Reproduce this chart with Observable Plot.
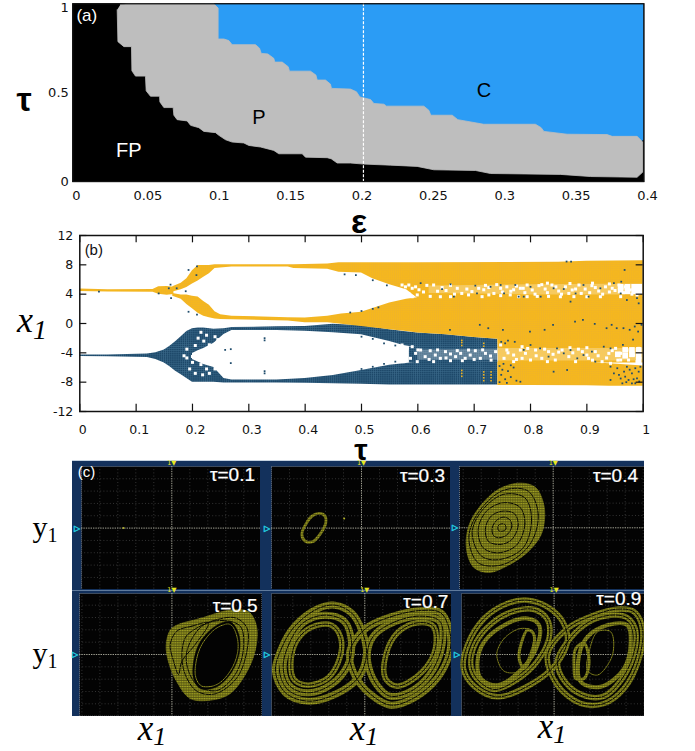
<!DOCTYPE html>
<html>
<head>
<meta charset="utf-8">
<script src="https://cdn.jsdelivr.net/npm/d3@7"></script>
<script src="https://cdn.jsdelivr.net/npm/@observablehq/plot@0.6"></script>
<style>
html,body{margin:0;padding:0;background:#fff}
#page{position:relative;width:695px;height:751px;overflow:hidden;background:#fff}
#page svg{position:absolute;display:block;max-width:none}
.lab{position:absolute;transform:translate(-50%,-50%);white-space:nowrap;color:#000;line-height:.62}
.ital{font-family:"Liberation Serif",serif;font-style:italic}
.rom{font-family:"Liberation Serif",serif}
.sym{font-family:"Liberation Sans",sans-serif;font-weight:700}
</style>
</head>
<body>
<div id="page">
<svg width="0" height="0" style="position:absolute">
  <defs>
    <pattern id="scopeTex" patternUnits="userSpaceOnUse" width="1.7" height="1.7">
      <rect width="1.7" height="1.7" fill="#a8a824"/>
      <rect y="1.15" width="1.7" height="0.55" fill="#2f2f08"/>
      <rect x="1.25" width="0.45" height="1.7" fill="#505010"/>
    </pattern>
    <pattern id="goldTex" patternUnits="userSpaceOnUse" width="2.1" height="2.1">
      <rect width="2.1" height="2.1" fill="#f6b81c"/>
      <rect y="1.6" width="2.1" height="0.5" fill="#efb32a"/>
      <rect x="1.6" width="0.5" height="2.1" fill="#efb32a"/>
    </pattern>
    <pattern id="navyTex" patternUnits="userSpaceOnUse" width="2.1" height="2.1">
      <rect width="2.1" height="2.1" fill="#1d4869"/>
      <rect y="1.6" width="2.1" height="0.5" fill="#3a6a8a"/>
      <rect x="1.6" width="0.5" height="2.1" fill="#3a6a8a"/>
    </pattern>
  </defs>
</svg>
</div>
<script>
// ---------- panel (a): epsilon / tau regions ----------
const epsTicks = [0, 0.05, 0.1, 0.15, 0.2, 0.25, 0.3, 0.35, 0.4];
const tauTicksA = [0, 0.5];
const tauTickTop = [1];
const chaosRegion = [[0.09,1],[0.3974,1],[0.3974,0.235],[0.39,0.2],[0.2,0.2],[0.09,0.5]];
const periodicBoundary = [
 [0.0308,0.996],[0.036,1],[0.0962,1],[0.0992,0.976],[0.0992,0.802],[0.1032,0.802],[0.1067,0.793],[0.109,0.77],
 [0.1254,0.77],[0.1282,0.75],[0.1294,0.721],[0.134,0.718],[0.1382,0.693],[0.1389,0.672],[0.1441,0.672],
 [0.1483,0.646],[0.1492,0.621],[0.1639,0.621],[0.1677,0.599],[0.1686,0.571],[0.1744,0.571],[0.1779,0.548],
 [0.1786,0.524],[0.1919,0.52],[0.1961,0.505],[0.1985,0.476],[0.206,0.461],[0.2083,0.439],[0.2153,0.435],
 [0.2172,0.424],[0.2433,0.424],[0.2468,0.401],[0.2482,0.373],[0.2632,0.373],[0.2671,0.348],[0.2853,0.322],
 [0.3215,0.322],[0.3255,0.303],[0.3274,0.282],[0.3437,0.266],[0.3717,0.264],[0.3752,0.254],[0.3927,0.254],
 [0.3967,0.222],[0.3967,0.053],[0.3927,0.024],[0.36,0.028],[0.339,0.04],[0.29,0.045],[0.2795,0.062],
 [0.2503,0.066],[0.2386,0.085],[0.22,0.092],[0.2013,0.098],[0.1919,0.104],[0.1826,0.104],[0.1784,0.128],
 [0.1756,0.134],[0.1604,0.137],[0.1581,0.156],[0.1417,0.156],[0.1382,0.175],[0.1289,0.194],[0.1207,0.203],
 [0.1172,0.217],[0.109,0.222],[0.1044,0.235],[0.0997,0.26],[0.0974,0.275],[0.0892,0.282],[0.0857,0.303],
 [0.0799,0.316],[0.0775,0.341],[0.0705,0.348],[0.0682,0.373],[0.0677,0.416],[0.0612,0.416],[0.0584,0.448],
 [0.0582,0.48],[0.0518,0.48],[0.0488,0.51],[0.0483,0.593],[0.0413,0.593],[0.0388,0.623],[0.0385,0.759],
 [0.0332,0.759],[0.029,0.787],[0.0285,0.966]
];
const regionLabels = [
 {e:0.0366,t:0.175,s:"FP",c:"#fff"},
 {e:0.1277,t:0.36,s:"P",c:"#000"},
 {e:0.2854,t:0.51,s:"C",c:"#000"}
];

// ---------- panel (b): bifurcation envelopes [tau, low, high] ----------
const tauTicksB = [0,0.1,0.2,0.3,0.4,0.5,0.6,0.7,0.8,0.9,1];
const xTicksB = [-12,-8,-4,0,4,8,12];
const navyStem = [[0,-4.5,-4.3],[0.05,-4.55,-4.3],[0.12,-4.65,-4.15],[0.135,-4.9,-4],[0.15,-5.4,-3.6],[0.16,-5.9,-3.1],[0.17,-6.5,-2.5],[0.18,-7,-1.8],[0.19,-7.5,-1.1],[0.2,-8,-0.7]];
const navyUpper = [[0.2,-4.1,-0.7],[0.21,-3.7,-0.6],[0.22,-3.4,-0.6],[0.238,-2.7,-0.8],[0.256,-1.5,-0.7],[0.27,-0.95,-0.55],[0.35,-0.95,-0.45],[0.4,-1.05,-0.4],[0.45,-1.25,-0.1],[0.5,-1.55,-0.3],[0.55,-2.45,-0.85],[0.575,-3,-1.1],[0.6,-3.3,-1.3],[0.65,-3.3,-1.55],[0.7,-3.3,-1.9],[0.742,-3.3,-2.15]];
const navyLower = [[0.2,-8,-4.9],[0.22,-8,-5.6],[0.238,-8,-6],[0.256,-8.1,-7.5],[0.27,-8.1,-7.7],[0.35,-8.1,-7.7],[0.4,-8.15,-7.5],[0.45,-8.2,-7.1],[0.5,-8.3,-6.4],[0.55,-8.4,-5.7],[0.6,-8.4,-5.3],[0.7,-8.4,-5.3],[0.742,-8.4,-5.2]];
const navyMiddle = [[0.585,-5.4,-3.2],[0.742,-5.3,-3.2]];
const goldStem = [[0,4.35,4.7],[0.05,4.3,4.6],[0.13,4.25,4.65],[0.14,4,5],[0.155,3.85,5.05],[0.167,3.95,4.95]];
const goldUpper = [[0.165,4.3,5],[0.18,4.6,5.5],[0.19,4.9,6.1],[0.2,5.4,7.2],[0.21,5.8,7.9],[0.22,6.3,7.9],[0.23,6.8,7.9],[0.24,7.5,8],[0.27,7.7,8],[0.37,7.7,8],[0.38,7.5,8],[0.44,7.4,8.1],[0.46,7,8.3],[0.5,6.9,8.3],[0.52,6.1,8.3],[0.55,5.3,8.3],[0.58,4.6,8.3],[0.6,3.4,8.3],[0.85,3.4,8.35],[0.9,3.4,8.5],[1,3.4,8.55]];
const goldLower = [[0.165,3.7,4.1],[0.18,3.3,3.9],[0.19,2.6,3.9],[0.2,2,3.7],[0.21,1.4,3.6],[0.22,1,3],[0.23,0.8,2.5],[0.24,0.6,1.6],[0.25,0.55,1.2],[0.27,0.5,1],[0.37,0.35,0.8],[0.4,0.1,0.75],[0.44,0.1,1],[0.4645,-0.1,1.3],[0.5,-0.4,1.55],[0.55,-0.85,2.8],[0.58,-1.1,3.3],[0.6,-1.3,3.5],[0.65,-1.55,3.6],[0.7,-1.9,3.6],[0.742,-2.15,3.6],[0.743,-5.4,3.6],[1,-5.4,3.5]];
const goldBottom = [[0.742,-8.45,-5.3],[0.8,-8.45,-5.3],[0.9,-8.5,-5.3],[0.94,-8.55,-5.5],[1,-8.55,-5.8]];
const mottleUpper = [[0.62,4.1,5.1],[0.8,3.9,5.3],[1,3.9,5.4]];
const mottleLower = [[0.6,-5,-3.6],[0.742,-5,-3.5],[0.743,-5.1,-3.4],[1,-5.1,-3.4]];
const whiteFlecks = [
 [.572,5.25],[.578,5],[.584,5.25],[.59,4.8],[.575,4.35],[.584,4.1],[.596,5],[.602,4.6],[.59,3.65],[.599,3.9],
 [.616,5.2],[.628,5.25],[.643,4.9],[.658,5.2],[.67,4.8],[.622,3.7],[.64,3.65],[.658,3.66],[.678,4.1],[.687,4.7],[.696,4.35],
 [.708,4.8],[.717,4.6],[.726,4.9],[.735,4.1],[.747,4.8],[.758,5],[.77,4.6],[.782,4.8],[.714,3.66],[.726,3.9],[.747,3.8],[.764,3.9],[.779,3.66],
 [.787,4.8],[.794,5.25],[.803,4.57],[.815,5.16],[.826,4.7],[.838,5.25],[.85,4.43],[.862,5],[.874,4.57],[.886,5.25],[.897,4.7],[.909,5.16],[.921,4.43],[.933,5],[.945,4.8],[.957,5.25],[.968,5],[.977,4.57],[.986,5.16],[.992,4.7],[.794,3.66],[.812,3.7],[.832,3.7],[.853,3.65],[.877,3.66],[.9,3.65],[.924,3.65],[.96,3.66],[.989,3.9],
 [.61,4.3],[.635,4.4],[.65,4.5],[.665,4],[.69,3.9],[.72,5.2],[.74,5.3],[.75,4.3],[.765,4.4],[.775,5.1],[.79,4.2],[.808,4],[.82,5.3],[.83,4.2],[.845,5],[.855,4],[.868,4.1],[.88,4.7],[.89,4.1],[.905,4.2],[.915,4.9],[.928,4],[.94,4.3],[.95,4.5],[.94,5.4],[.965,4.2],[.98,4],[.992,4.1],[.83,5.5],[.87,5.45],[.91,5.5],
 [.572,-2.93],[.581,-3.39],[.59,-3.16],[.578,-4.3],[.587,-4.75],[.596,-4.07],[.605,-3.62],[.613,-4.52],[.599,-5.2],[.622,-3.71],[.631,-4.3],[.64,-4.75],[.649,-3.84],[.658,-4.16],[.667,-4.52],[.676,-4.07],[.684,-4.75],[.693,-4.3],[.702,-3.71],[.711,-4.75],[.72,-4.07],[.729,-4.43],[.738,-3.84],[.69,-3.62],[.679,-5.07],[.658,-5.07],[.628,-5.2],[.575,-5.2],
 [.6,-3.6],[.62,-4.9],[.635,-3.6],[.65,-4.7],[.67,-3.7],[.7,-4.9],[.715,-3.6],[.73,-5],[.76,-4],[.775,-4.9],[.795,-3.4],[.81,-4.4],[.825,-3.5],[.84,-4.2],[.85,-3.9],[.875,-4],[.885,-3.5],[.9,-4.3],[.91,-5],[.92,-4.4],[.935,-4.7],[.945,-3.7],[.955,-5],[.83,-5.2],[.87,-3.3],[.9,-3.3],
 [.747,-2.93],[.758,-3.62],[.77,-4.3],[.782,-3.62],[.753,-4.75],[.77,-5.2],[.785,-4.75],
 [.785,-3.16],[.791,-4.07],[.8,-4.98],[.809,-3.62],[.82,-4.75],[.832,-3.84],[.844,-4.98],[.856,-3.62],[.868,-4.52],[.88,-5.2],[.892,-3.84],[.903,-4.75],[.915,-3.84],[.927,-5.2],[.939,-4.07],[.951,-3.39],[.96,-4.07],[.971,-3.62],[.983,-4.3],[.992,-3.39],[.96,-4.98],[.974,-4.98],[.989,-5.2],[.942,-5.43],
 [.205,-3],[.21,-2],[.215,-1.2],[.22,-2.4],[.225,-1.6],[.23,-2.9],[.215,-3.8],[.185,-4.4],[.19,-4.7],[.2,-4.5],[.21,-4.5],[.2,-5.3],[.215,-5.6],[.225,-6.2],[.23,-6.8],[.218,-7],[.24,-1.8],[.245,-2.2],[.19,-3.5],[.195,-6.2],[.205,-6.8],[.24,-6.2],[.235,-5.2]
];
const whiteBlocks = [[.96,5],[.972,5],[.984,5],[.993,5],[.96,4.5],[.972,4.4],[.984,4.4],[.993,4.4],[.955,-4.2],[.968,-4.4],[.98,-4.2],[.992,-4.4],[.968,-3.6],[.98,-3.6],[.992,-3.6],[.992,-5]];
const navyFlecks = [
 [.8,5],[.818,3.66],[.841,4.8],[.859,4.7],[.88,4.1],[.894,5.25],[.903,3.66],[.924,4.8],[.948,5.5],[.96,4.1],[.971,3.2],[.989,3.45],[.992,2.75],[.788,3.66],[.871,2.98],
 [.605,5.5],[.643,4.7],[.658,5.35],[.664,3.66],[.702,5.16],[.705,4.1],[.729,5],[.747,5.25],[.753,4.1],[.773,5.25],[.779,3.66],
 [.788,-3.6],[.8,-2.93],[.817,-3.39],[.832,-4.52],[.847,-3.39],[.859,-4.07],[.871,-3.62],[.883,-4.75],[.894,-4.3],[.909,-3.84],[.915,-5.2],[.93,-3.16],[.942,-3.39],[.942,-5.89],[.841,-6.57],[.865,-6.34],[.782,-7.94],
 [.948,-6.8],[.954,-6.1],[.96,-7.5],[.966,-6.57],[.971,-5.9],[.974,-7.7],[.98,-6.8],[.986,-6.1],[.989,-7.48],[.992,-6.57],[.963,-8.16],[.98,-8.16],[.957,-7],[.942,-7.7],[.968,-7.25],[.986,-8.16],[.995,-5.9],[.976,-6.3],[.983,-7.6],[.993,-7.9],[.97,-8],
 [.745,-5.8],[.75,-6.3],[.748,-7],[.755,-7.6],[.745,-8],[.76,-6.5],[.765,-7.3],[.77,-6],[.775,-7.8],[.758,-8.1],[.752,-5.5],[.765,-5.7],[.748,-2.5],[.755,-2.7],[.76,-2.35],[.772,-2.5],
 [.657,-.86],[.71,-.18],[.725,-.64],[.751,-.86],[.799,-1.1],[.825,-.86],[.84,-.18],[.879,.27],[.893,.5],[.914,-.05],[.935,-.64],[.944,-.18],[.953,-.64],[.965,-.64],[.976,-.86],[.985,-.41],[.991,-1.1],[.997,-.18],[.982,-2.2],[.964,-2.9],[.967,7.3],[.961,5.7],[.864,8.45],[.872,8.45],
 [.193,7.3],[.208,7.8],[.207,6.6],[.161,5.3],[.158,4.8],[.188,4.4],[.162,3.45],[.193,1.6],[.208,1.2],[.034,4.36],[.14,4.1],[.172,4.8],
 [.328,-2],[.328,-2.3],[.328,-6.8],[.328,-6.5],[.268,-3.5],[.268,-5.4],[.258,-3.6],[.47,6.7],[.49,6.6],[.52,5.9],[.545,5.2],[.5,1.7],[.52,2],[.53,2.2],[.48,1.5],
 [.5,-1.8],[.52,-2.1],[.54,-2.7],[.56,-3],[.5,-6.2],[.52,-5.9],[.54,-5.5],[.56,-5.2]
];
const goldFlecks = [[.678,-2.3],[.678,-2.6],[.678,-3],[.678,-6.4],[.678,-6.8],[.678,-7.2],[.717,-2.7],[.717,-3.1],[.717,-6.6],[.717,-7],[.717,-7.4],[.717,-7.8],[.73,-6.6],[.73,-7],[.73,-7.4],[.73,-7.8]];

// ---------- panel (c): oscilloscope x1-y1 portraits (54 units = 1 div across, 37 units = 1 div up) ----------
const scopeX = [-270,-216,-162,-108,-54,54,108,162,216,270];
const scopeY = [-185,-148,-111,-74,-37,37,74,111,148,185];
const fixedPoint01 = [[-145,0]];
const limitCycle03 = [[-127,44],[-110,37],[-107,17],[-122,-15],[-147,-41],[-170,-38],[-179,-18],[-167,12],[-147,37]];
const strayPoint03 = [[-52,29]];
const outline04 = [[-98,134],[-53,121],[-30,76],[-26,26],[-38,-24],[-78,-74],[-138,-114],[-193,-134],[-238,-119],[-260,-64],[-253,6],[-218,66],[-163,116]];
const gap04a = [[-145,10],[-142,-4],[-152,-10],[-164,-8],[-165,6],[-155,12]];
const gap04b = [[-131,25],[-124,4],[-140,-22],[-165,-30],[-180,-22],[-183,0],[-170,22],[-150,32]];
const gap04c = [[-116,42],[-105,8],[-125,-36],[-160,-50],[-195,-40],[-203,0],[-185,36],[-150,50]];
const gap04d = [[-100,62],[-85,12],[-110,-52],[-165,-75],[-210,-60],[-225,-5],[-200,50],[-150,75]];
const gap04e = [[-85,90],[-65,25],[-90,-60],[-160,-95],[-215,-85],[-243,-15],[-215,50],[-150,100]];
const gap04f = [[-75,110],[-45,40],[-70,-50],[-150,-110],[-225,-105],[-253,-30],[-225,45],[-150,112]];
const outline05 = [[15,88],[85,108],[175,133],[230,128],[253,88],[253,28],[230,-42],[175,-117],[115,-137],[55,-132],[15,-82],[-10,-22],[-17,28],[-5,73]];
const hole05 = [[135,88],[175,98],[200,63],[203,8],[180,-52],[135,-97],[85,-102],[65,-72],[65,-22],[85,38]];
const gap05a = [[60,70],[120,100],[190,110],[225,80],[225,10],[195,-70],[130,-118],[75,-110],[40,-60],[30,0],[40,50]];
const gap05b = [[90,85],[150,102],[205,85],[215,20],[190,-60],[135,-108],[80,-95],[50,-50],[45,10]];
const gap05c = [[15,70],[60,85],[110,95],[70,30],[30,-20],[20,-60],[5,-20],[-5,30]];
const thread05 = [[175,90],[195,55],[197,5],[175,-50],[135,-90],[90,-95],[72,-70],[72,-25],[90,30],[135,80]];
const left07a = [[-268,-50],[-250,18],[-210,85],[-140,138],[-90,148],[-40,125],[-8,70],[5,0],[-20,-70],[-90,-120],[-170,-140],[-238,-115]];
const left07b = [[-245,-40],[-228,30],[-185,95],[-120,118],[-62,100],[-40,40],[-50,-30],[-100,-90],[-170,-115],[-225,-95]];
const left07c = [[-222,-30],[-205,40],[-160,82],[-100,88],[-72,50],[-75,-10],[-110,-70],[-170,-92],[-212,-75]];
const right07a = [[3,78],[78,113],[168,132],[228,125],[255,68],[255,8],[218,-70],[148,-130],[78,-152],[18,-120],[-30,-62],[-45,10]];
const right07b = [[30,60],[90,98],[165,115],[225,100],[232,30],[195,-60],[135,-112],[75,-125],[35,-90],[10,-30],[10,20]];
const right07c = [[63,-2],[98,65],[158,95],[205,85],[212,18],[172,-52],[98,-95],[62,-72]];
const left09a = [[-272,-42],[-260,28],[-210,108],[-140,153],[-80,163],[-20,143],[25,100],[40,40],[5,-30],[-70,-90],[-170,-127],[-240,-95]];
const left09b = [[-250,-30],[-235,35],[-185,95],[-120,130],[-60,135],[-20,105],[-15,50],[-50,-20],[-110,-75],[-180,-105],[-230,-75]];
const left09c = [[-230,-22],[-210,38],[-150,88],[-80,108],[-45,88],[-50,28],[-95,-42],[-170,-92],[-220,-72]];
const loop09a = [[-100,28],[-80,73],[-62,63],[-65,8],[-90,-42],[-105,-12]];
const thread09a = [[-172,0],[-150,48],[-100,78],[-62,68],[-70,10],[-105,-50],[-150,-50]];
const right09a = [[265,78],[240,128],[190,136],[120,118],[40,78],[-20,-2],[10,-92],[80,-147],[150,-147],[210,-102],[255,-12]];
const right09b = [[245,70],[220,110],[170,118],[105,98],[50,50],[10,-20],[35,-85],[95,-125],[150,-125],[195,-85],[235,-10]];
const right09c = [[75,-2],[100,53],[160,88],[220,88],[230,38],[210,-42],[140,-97],[80,-82]];
const loop09b = [[60,-42],[65,18],[90,33],[105,-22],[90,-72],[65,-72]];
const thread09b = [[105,8],[130,68],[170,68],[175,-2],[130,-62],[100,-47]];

const scopePanels = [
 {label:"τ=0.1",l:80.7,r:260,t:465.7,b:589,cx:171,cy:527.3,lx:231.7,ly:474.5,dots:fixedPoint01},
 {label:"τ=0.3",l:270.7,r:450,t:465.7,b:589,cx:360.7,cy:527.3,lx:421.7,ly:475.5,bands:[[limitCycle03,2.8]],dots:strayPoint03},
 {label:"τ=0.4",l:459,r:644,t:465.7,b:589,cx:552.7,cy:527,lx:615,ly:475,fills:[outline04],gaps:[gap04a,gap04b,gap04c,gap04d,gap04e,gap04f]},
 {label:"τ=0.5",l:79.3,r:261.7,t:593.3,b:716,cx:171.7,cy:654.3,lx:235,ly:605.5,fills:[outline05],holes:[hole05],gaps:[gap05a,gap05b,gap05c],threads:[thread05]},
 {label:"τ=0.7",l:270.7,r:451,t:593.3,b:716,cx:364,cy:654.3,lx:425,ly:602,bands:[[left07a,7],[left07b,7],[left07c,5.5],[right07a,7],[right07b,7],[right07c,5.5]],gaps:[left07a,left07b,left07c,right07a,right07b,right07c]},
 {label:"τ=0.9",l:460.7,r:644,t:593.3,b:716,cx:553.3,cy:654.3,lx:618,ly:599,bands:[[left09a,5.5],[left09b,5.5],[left09c,4],[loop09a,3],[right09a,5.5],[right09b,5.5],[right09c,4],[loop09b,3]],gaps:[left09a,left09b,right09a,right09b],threads:[thread09a,thread09b]}
];

// ---------- drawing ----------
const page = document.getElementById("page");
const SANS = "'DejaVu Sans',sans-serif", ARIAL = "'Liberation Sans',sans-serif";
const GOLD = "url(#goldTex)", NAVY = "url(#navyTex)", GOLDDOT = "#f1b31f", NAVYDOT = "#1f4c6c", OLIVE = "url(#scopeTex)";

function place(svg, left, top) { svg.style.left = left + "px"; svg.style.top = top + "px"; page.appendChild(svg); }

// panel (a)
place(Plot.plot({
  width: 695, height: 240, marginLeft: 72.3, marginRight: 51.7, marginTop: 3.3, marginBottom: 59,
  style: {background: "transparent", fontFamily: SANS},
  x: {domain: [-0.0026, 0.3974], axis: null},
  y: {domain: [0, 1], axis: null},
  marks: [
    Plot.frame({fill: "#000", stroke: "#000", strokeWidth: 1.2}),
    Plot.line(chaosRegion, {fill: "#2b9cf5", stroke: "none", curve: "linear"}),
    Plot.line(periodicBoundary, {fill: "#bebebe", stroke: "#bebebe", strokeWidth: 0.8, strokeLinejoin: "round", curve: "linear"}),
    Plot.ruleX([0.201], {stroke: "#fff", strokeWidth: 1.2, strokeDasharray: "3 1.5"}),
    Plot.frame({stroke: "#111", strokeWidth: 1.2}),
    Plot.axisX(epsTicks, {anchor: "bottom", label: null, tickSize: 0, tickPadding: 9, fontSize: 13, tickFormat: d => String(d), fill: "#111"}),
    Plot.axisY(tauTicksA, {anchor: "left", label: null, tickSize: 0, tickPadding: 4, fontSize: 13, tickFormat: d => String(d), fill: "#111"}),
    Plot.axisY(tauTickTop, {anchor: "left", label: null, tickSize: 0, tickPadding: 4, dy: 4.5, fontSize: 13, tickFormat: d => String(d), fill: "#111"}),
    Plot.text(regionLabels, {x: "e", y: "t", text: "s", fill: "c", fontSize: 20, fontFamily: ARIAL}),
    Plot.text(["(a)"], {frameAnchor: "top-left", dx: 14, dy: 12, fill: "#fff", fontSize: 17, fontFamily: ARIAL, lineAnchor: "middle", textAnchor: "middle", text: d => d})
  ]
}), 0, 0);

// panel (b)
const band = (rows, fill, fillOpacity = 1) => Plot.areaY(rows, {x: d => d[0], y1: d => d[1], y2: d => d[2], fill, fillOpacity, curve: "linear"});
const fleck = (rows, fill, r) => Plot.dot(rows, {x: d => d[0], y: d => d[1], symbol: "square", r, fill, stroke: "none"});
const tickLen = 0.0125, tickLenY = 1;
place(Plot.plot({
  width: 695, height: 235, marginLeft: 79.3, marginRight: 52.3, marginTop: 10, marginBottom: 49,
  style: {background: "transparent", fontFamily: SANS},
  x: {domain: [0, 1], axis: null},
  y: {domain: [-12, 12], axis: null},
  marks: [
    band(navyStem, NAVY), band(navyUpper, NAVY), band(navyLower, NAVY), band(navyMiddle, NAVY),
    band(goldStem, GOLD), band(goldUpper, GOLD), band(goldLower, GOLD), band(goldBottom, GOLD),
    band(mottleUpper, "#fff", 0.28), band(mottleLower, "#fff", 0.28),
    fleck(whiteFlecks, "#fff", 1.7), fleck(whiteBlocks, "#fff", 3.2),
    fleck(goldFlecks, GOLDDOT, 0.9), fleck(navyFlecks, NAVYDOT, 1),
    Plot.ruleX(tauTicksB, {x: d => d, y1: -12, y2: -12 + tickLenY, stroke: "#111", strokeWidth: 1.2}),
    Plot.ruleX(tauTicksB, {x: d => d, y1: 12, y2: 12 - tickLenY, stroke: "#111", strokeWidth: 1.2}),
    Plot.ruleY(xTicksB, {y: d => d, x1: 0, x2: tickLen, stroke: "#111", strokeWidth: 1.2}),
    Plot.ruleY(xTicksB, {y: d => d, x1: 1, x2: 1 - tickLen, stroke: "#111", strokeWidth: 1.2}),
    Plot.frame({stroke: "#111", strokeWidth: 1.5}),
    Plot.axisX(tauTicksB, {anchor: "bottom", label: null, tickSize: 0, tickPadding: 14, dx: 3, fontSize: 12.5, tickFormat: d => String(d), fill: "#111"}),
    Plot.axisY(xTicksB, {anchor: "left", label: null, tickSize: 0, tickPadding: 6.5, fontSize: 12.5, tickFormat: d => String(d), fill: "#111"}),
    Plot.text(["(b)"], {frameAnchor: "top-left", dx: 14, dy: 15, fill: "#111", fontSize: 15, fontFamily: ARIAL, lineAnchor: "middle", textAnchor: "middle", text: d => d})
  ]
}), 0, 225);

// panel (c) backing
const back = document.createElement("div");
back.style.cssText = "position:absolute;left:71.5px;top:460px;width:572.5px;height:256px;background:#13315c;border-top:1px solid #c5d2e0;box-sizing:border-box";
page.appendChild(back);
const sep = document.createElement("div");
sep.style.cssText = "position:absolute;left:71.5px;top:589.5px;width:572.5px;height:1px;background:#5f7a9c";
page.appendChild(sep);

const closed = "catmull-rom-closed";
for (const p of scopePanels) {
  const mL = 8, mT = 6, W = p.r - p.l, H = p.b - p.t;
  const xDom = [(p.l - p.cx) * 3, (p.r - p.cx) * 3];
  const yDom = [(p.cy - p.b) * 3, (p.cy - p.t) * 3];
  const marks = [
    Plot.frame({fill: "#030303", stroke: "#8d98a6", strokeWidth: 0.8, strokeDasharray: "1 1"}),
    Plot.ruleX(scopeX.filter(v => v > xDom[0] && v < xDom[1]), {stroke: "#4a4a4a", strokeWidth: 0.7, strokeDasharray: "1 2.2"}),
    Plot.ruleY(scopeY.filter(v => v > yDom[0] && v < yDom[1]), {stroke: "#4a4a4a", strokeWidth: 0.7, strokeDasharray: "1 2.2"}),
    Plot.ruleX([0], {stroke: "#c9c9b8", strokeWidth: 0.8, strokeDasharray: "1.4 1"}),
    Plot.ruleY([0], {stroke: "#c9c9b8", strokeWidth: 0.8, strokeDasharray: "1.4 1"})
  ];
  for (const f of p.fills || []) marks.push(Plot.line(f, {curve: closed, fill: OLIVE, stroke: OLIVE, strokeWidth: 0.8}));
  for (const g of p.holes || []) marks.push(Plot.line(g, {curve: closed, fill: "#030303", stroke: "#030303", strokeWidth: 0.5}));
  for (const [ring, w] of p.bands || []) marks.push(Plot.line(ring, {curve: closed, stroke: OLIVE, strokeWidth: w}));
  for (const g of p.gaps || []) marks.push(Plot.line(g, {curve: closed, stroke: "#060603", strokeWidth: 1, strokeDasharray: "5 1.5"}));
  for (const t of p.threads || []) marks.push(Plot.line(t, {curve: closed, stroke: OLIVE, strokeWidth: 1}));
  for (const d of p.dots || []) marks.push(Plot.dot([d], {x: v => v[0], y: v => v[1], r: 1, fill: "#b5b52a"}));
  marks.push(
    Plot.text(["1▼"], {frameAnchor: "top-left", dx: p.cx - p.l, dy: -3.5, fill: "#e6e620", fontSize: 6.5, text: d => d, textAnchor: "middle", lineAnchor: "middle", fontFamily: SANS}),
    Plot.text(["▷"], {frameAnchor: "top-left", dx: -4.5, dy: p.cy - p.t, fill: "#22c6dc", stroke: "#22c6dc", strokeWidth: 0.6, fontSize: 8, text: d => d, textAnchor: "middle", lineAnchor: "middle", fontFamily: SANS}),
    Plot.text([p.label], {frameAnchor: "top-left", dx: p.lx - p.l, dy: p.ly - p.t, fill: "#fff", stroke: "#fff", strokeWidth: 0.25, fontSize: 19, text: d => d, textAnchor: "middle", lineAnchor: "middle", fontFamily: ARIAL})
  );
  if (p.label === "τ=0.1") marks.push(Plot.text(["(c)"], {frameAnchor: "top-left", dx: 5, dy: 6, fill: "#fff", fontSize: 15, text: d => d, textAnchor: "middle", lineAnchor: "middle", fontFamily: ARIAL}));
  place(Plot.plot({
    width: W + mL, height: H + mT, marginLeft: mL, marginRight: 0, marginTop: mT, marginBottom: 0,
    style: {background: "transparent"},
    x: {domain: xDom, axis: null}, y: {domain: yDom, axis: null},
    marks
  }), p.l - mL, p.t - mT);
}

// axis titles outside the plots
const sub = (size, top) => `<span style="font-size:${size}px;position:relative;top:${top}px">1</span>`;
const titles = [
 {x:24,y:100,cls:"sym",size:34,html:"τ"},
 {x:359,y:222,cls:"sym",size:34,html:"ε"},
 {x:361,y:450,cls:"sym",size:30,html:"τ"},
 {x:32,y:320,cls:"ital",size:36,html:"x"+sub(28,7)},
 {x:45,y:527,cls:"rom",size:30,html:"y"+sub(20,5)},
 {x:45,y:653,cls:"rom",size:30,html:"y"+sub(20,5)},
 {x:152,y:729,cls:"ital",size:35,html:"x"+sub(26,5)},
 {x:364,y:729,cls:"ital",size:35,html:"x"+sub(26,5)},
 {x:552,y:727,cls:"ital",size:35,html:"x"+sub(26,5)}
];
for (const t of titles) {
  const el = document.createElement("div");
  el.className = "lab " + t.cls;
  el.style.left = t.x + "px"; el.style.top = t.y + "px"; el.style.fontSize = t.size + "px";
  el.innerHTML = t.html;
  page.appendChild(el);
}
</script>
</body>
</html>
